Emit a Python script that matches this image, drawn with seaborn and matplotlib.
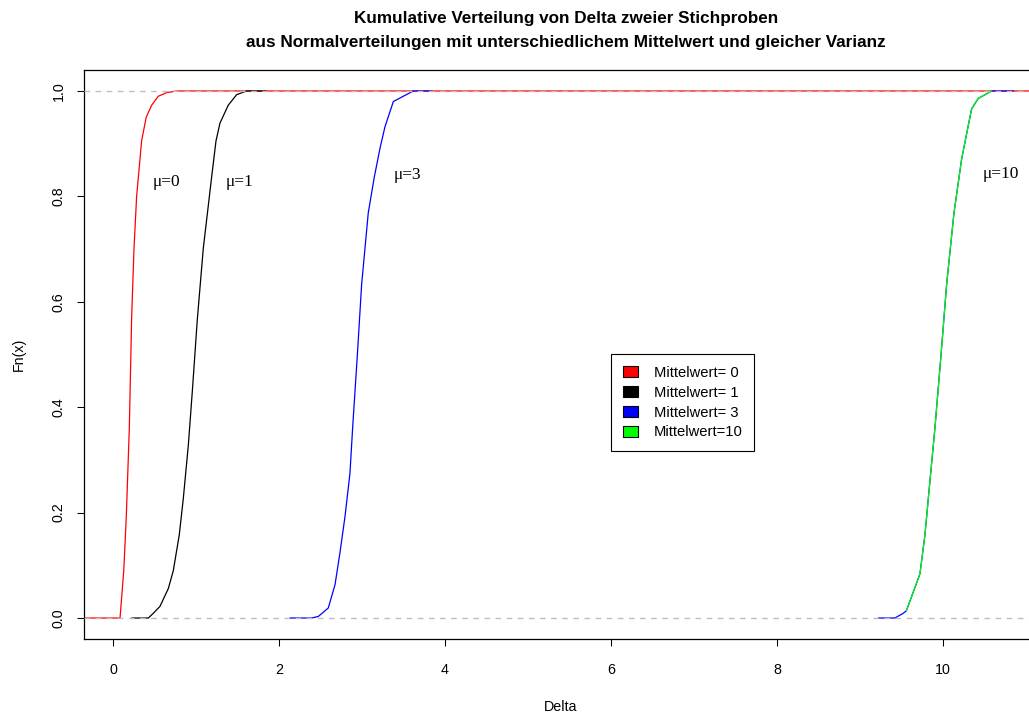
import matplotlib
matplotlib.use("Agg")
import matplotlib.pyplot as plt
from matplotlib.patches import Patch
import seaborn as sns
import pandas as pd

# ---------------- data ----------------
red_x = [-0.35, 0.085, 0.10, 0.13, 0.16, 0.197, 0.225, 0.253, 0.285, 0.345, 0.40, 0.466, 0.546, 0.65, 0.77, 11.16]
red_f = [0, 0, 0.03, 0.09, 0.19, 0.36, 0.57, 0.70, 0.80, 0.905, 0.95, 0.973, 0.99, 0.997, 1, 1]

black_x = [0.225, 0.426, 0.486, 0.566, 0.667, 0.727, 0.799, 0.847, 0.908, 0.956, 1.016, 1.088, 1.189, 1.241, 1.289, 1.389, 1.49, 1.61, 1.85]
black_f = [0, 0, 0.009, 0.022, 0.056, 0.09, 0.158, 0.226, 0.328, 0.43, 0.566, 0.701, 0.837, 0.905, 0.939, 0.973, 0.993, 1, 1]

blue_x = [2.133, 2.393, 2.474, 2.594, 2.675, 2.735, 2.795, 2.855, 2.888, 2.944, 2.996, 3.076, 3.149, 3.217, 3.277, 3.378, 3.498, 3.618, 3.85]
blue_f = [0, 0, 0.003, 0.019, 0.063, 0.124, 0.192, 0.274, 0.362, 0.498, 0.633, 0.769, 0.837, 0.891, 0.932, 0.98, 0.99, 1, 1]

green_x = [9.22, 9.42, 9.522, 9.56, 9.723, 9.783, 9.843, 9.904, 9.976, 10.044, 10.133, 10.225, 10.293, 10.345, 10.426, 10.587, 10.85]
green_f = [0, 0, 0.009, 0.014, 0.084, 0.158, 0.26, 0.362, 0.498, 0.633, 0.769, 0.871, 0.925, 0.966, 0.986, 1, 1]

legend_labels = ["Mittelwert= 0", "Mittelwert= 1", "Mittelwert= 3", "Mittelwert=10"]
legend_colors = ["#FF0000", "#000000", "#0000FF", "#00FF00"]
mu_labels = ["\u03bc=0", "\u03bc=1", "\u03bc=3", "\u03bc=10"]
mu_x = [0.65, 1.53, 3.55, 10.7]
mu_y = [0.828, 0.828, 0.84, 0.843]

x_ticks = [0, 2, 4, 6, 8, 10]
y_ticks = [0.0, 0.2, 0.4, 0.6, 0.8, 1.0]

title_lines = ["Kumulative Verteilung von Delta zweier Stichproben",
               "aus Normalverteilungen mit unterschiedlichem Mittelwert und gleicher Varianz"]

# ---------------- style ----------------
sns.set_style("ticks")
plt.rcParams["font.family"] = ["Liberation Sans", "DejaVu Sans"]
plt.rcParams["text.color"] = "black"
plt.rcParams["axes.labelcolor"] = "black"
plt.rcParams["xtick.color"] = "black"
plt.rcParams["ytick.color"] = "black"

fig = plt.figure(figsize=(10.29, 7.13), dpi=100)
ax = fig.add_axes([84 / 1029, 1 - 639 / 713, (1039 - 84) / 1029, (639 - 70) / 713])

lw = 0.9

def draw(xs, fs, color, start=0, stop=None):
    df = pd.DataFrame({"x": xs[start:stop], "F": fs[start:stop]})
    sns.lineplot(data=df, x="x", y="F", ax=ax, color=color, lw=lw,
                 estimator=None, sort=False)

draw(red_x, red_f, "#FF0000")
draw(black_x, black_f, "#000000")
draw(blue_x, blue_f, "#0000FF")
# mu=10 curve: blue tails underneath, green core on top
draw(green_x, green_f, "#0000FF")
draw(green_x, green_f, "#00FF00", start=3, stop=16)

# grey dashed reference lines
for h in (0.0, 1.0):
    ax.axhline(h, color="#BEBEBE", lw=1.0, linestyle=(0, (4, 4)), zorder=5)

# mu annotations
for lab, xx, yy in zip(mu_labels, mu_x, mu_y):
    ax.text(xx, yy, lab, ha="center", va="center", fontsize=12.5,
            family=["Liberation Serif", "DejaVu Serif"], color="black")

# axes
ax.set_xlim(-0.349, 11.157)
ax.set_ylim(-0.0398, 1.0398)
ax.set_xticks(x_ticks)
ax.set_xticklabels([str(t) for t in x_ticks])
ax.set_yticks(y_ticks)
ax.set_yticklabels([f"{t:.1f}" for t in y_ticks], rotation=90, va="center")
ax.tick_params(axis="both", direction="out", length=5, width=0.75, color="black",
               labelsize=10.3, labelcolor="black")
ax.tick_params(axis="x", pad=12)
ax.tick_params(axis="y", pad=8)
for s in ax.spines.values():
    s.set_color("black")
    s.set_linewidth(0.9)

ax.set_xlabel("Delta", fontsize=10.3, color="black")
ax.set_ylabel("Fn(x)", fontsize=10.3, color="black")
ax.xaxis.set_label_coords((561 - 84) / 955, (639 - 700) / 569)
ax.yaxis.set_label_coords((26 - 84) / 955, 0.5)

# legend
handles = [Patch(facecolor=c, edgecolor="black", lw=0.8) for c in legend_colors]
leg = ax.legend(handles, legend_labels, loc="upper left",
                bbox_to_anchor=((611 - 84) / 955, (639 - 354) / 569),
                borderaxespad=0, frameon=True, fancybox=False, framealpha=1,
                edgecolor="black", fontsize=10.6, handlelength=1.0, handleheight=0.8,
                handletextpad=1.1, labelspacing=0.4, borderpad=0.8, labelcolor="black")
leg.get_frame().set_linewidth(0.8)

# title
fig.text(566 / 1029, 1 - 18 / 713, title_lines[0], ha="center", va="center",
         fontsize=12.3, fontweight="bold", color="black")
fig.text(566 / 1029, 1 - 43 / 713, title_lines[1], ha="center", va="center",
         fontsize=12.3, fontweight="bold", color="black")

fig.savefig("out.png", dpi=100, facecolor="white")
